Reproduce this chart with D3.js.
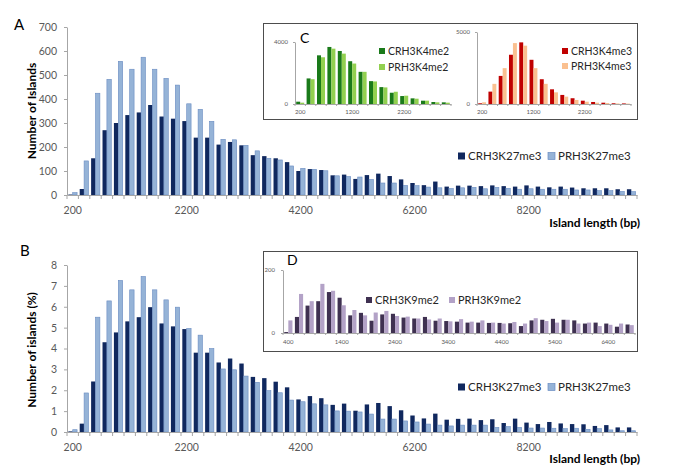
<!DOCTYPE html>
<html><head><meta charset="utf-8">
<script src="https://cdn.jsdelivr.net/npm/d3@7/dist/d3.min.js"></script>
<style>
body{margin:0;background:#fff}
svg{display:block;font-family:Lato,"Open Sans",sans-serif}
</style>
</head><body>
<svg id="c" width="685" height="476"></svg>
<script>
// ---------- DATA ----------
const mainCats = ["200","400","600","800","1000","1200","1400","1600","1800","2000",
  "2200","2400","2600","2800","3000","3200","3400","3600","3800","4000",
  "4200","4400","4600","4800","5000","5200","5400","5600","5800","6000",
  "6200","6400","6600","6800","7000","7200","7400","7600","7800","8000",
  "8200","8400","8600","8800","9000","9200","9400","9600","9800","10000"];
const mainTickLabels = ["200","2200","4200","6200","8200"];

const aCRH = [2,25,153,270,300,333,344,375,327,318,308,239,239,210,221,207,166,162,153,137,
  100,108,104,82,85,67,83,89,79,65,50,41,56,35,39,39,37,40,37,35,40,35,32,35,31,28,28,28,24,24];
const aPRH = [10,142,424,482,557,524,574,524,486,458,380,357,307,232,230,207,184,153,146,121,
  111,107,101,80,77,75,65,50,50,40,39,33,30,27,30,32,26,32,28,24,26,24,24,24,21,21,18,18,15,14];
const aYTicks = [0,100,200,300,400,500,600,700];

const bCRH = [0.03,0.4,2.42,4.3,4.77,5.3,5.5,5.98,5.2,5.06,4.93,3.8,3.8,3.33,3.52,3.28,2.64,2.58,2.41,2.14,
  1.56,1.72,1.62,1.3,1.36,1.02,1.32,1.39,1.24,1.04,0.79,0.65,0.88,0.59,0.63,0.64,0.57,0.61,0.43,0.64,
  0.45,0.38,0.48,0.41,0.38,0.37,0.29,0.33,0.22,0.22];
const bPRH = [0.11,1.87,5.5,6.28,7.26,6.81,7.45,6.81,6.33,5.98,4.96,4.64,4.0,3.02,2.98,2.68,2.38,1.98,1.88,1.53,
  1.45,1.35,1.3,1.01,1.0,0.96,0.86,0.62,0.62,0.53,0.48,0.38,0.33,0.29,0.33,0.33,0.33,0.22,0.26,0.22,
  0.19,0.19,0.18,0.16,0.18,0.13,0.16,0.1,0.06,0.06];
const bYTicks = [0,1,2,3,4,5,6,7,8];

const cCats = ["200","400","600","800","1000","1200","1400","1600","1800","2000","2200","2400","2600","2800","3000"];
const cTickLabels = ["200","1200","2200"];
const k4me2CRH = [150,1650,3140,3680,3420,2760,2075,1475,1090,727,513,364,214,128,107];
const k4me2PRH = [85,1600,3015,3570,3250,2610,2075,1455,1070,790,535,342,214,107,86];
const k4me3CRH = [50,860,1950,3420,4280,3070,1720,1020,630,400,230,140,90,50,40];
const k4me3PRH = [120,1400,2490,4230,4050,2490,1400,810,510,280,160,90,70,40,30];

const dCats = ["400","600","800","1000","1200","1400","1600","1800","2000","2200","2400","2600","2800",
  "3000","3200","3400","3600","3800","4000","4200","4400","4600","4800","5000","5200","5400","5600",
  "5800","6000","6200","6400","6600","6800"];
const dTickLabels = ["400","1400","2400","3400","4400","5400","6400"];
const k9me2CRH = [3,51,87,101,130,112,56,64,39,59,61,49,46,51,39,38,36,33,33,32,32,31,22,40,42,45,42,40,30,33,30,20,27];
const k9me2PRH = [40,124,101,156,134,88,73,56,65,70,54,52,46,43,46,37,44,36,40,33,30,35,30,47,38,33,42,30,33,22,26,30,25];

// ---------- DRAW ----------
const svg = d3.select("#c");
const AXIS = "#a6a6a6", TXT = "#595959";

function barChart(o){
  const g = svg.append("g");
  const x = d3.scaleBand().domain(o.cats).range(o.xr).padding(0);
  const sub = d3.scaleBand().domain(d3.range(o.series.length)).range([0, x.bandwidth()])
      .paddingInner(0).paddingOuter(o.pad);
  const y = d3.scaleLinear().domain(o.yd).range(o.yr);
  const y0 = y(0);
  o.series.forEach((s,i)=>{
    g.append("g").selectAll("rect").data(s.vals).join("rect")
      .attr("x",(d,j)=>x(o.cats[j])+sub(i))
      .attr("width",sub.bandwidth())
      .attr("y",d=>y(d))
      .attr("height",d=>y0-y(d))
      .attr("fill",s.color)
      .attr("stroke",s.stroke||"none")
      .attr("stroke-width",s.stroke?0.6:0);
  });
  const ya = g.append("g").attr("transform",`translate(${o.xr[0]},0)`)
    .call(d3.axisLeft(y).tickValues(o.yTicks).tickFormat(d3.format("d"))
      .tickSize(o.ytick).tickSizeOuter(0).tickPadding(o.ypad));
  const xa = g.append("g").attr("transform",`translate(0,${y0})`)
    .call(d3.axisBottom(x).tickValues(o.xTicks).tickSize(0).tickSizeOuter(0).tickPadding(o.xpad));
  [ya,xa].forEach(a=>{
    a.select(".domain").attr("stroke",AXIS);
    a.selectAll(".tick line").attr("stroke",AXIS);
    a.selectAll("text").attr("fill",TXT).style("font-size",o.fs+"px").style("font-family","Lato");
  });
  const bounds = o.cats.map(c=>x(c)).concat([o.xr[1]]);
  g.append("g").selectAll("line").data(bounds).join("line")
    .attr("x1",d=>d).attr("x2",d=>d).attr("y1",y0).attr("y2",y0+o.xtick)
    .attr("stroke",AXIS).attr("stroke-width",1);
  return {x,y};
}

function legend(items, fs, sq){
  items.forEach(it=>{
    svg.append("rect").attr("x",it.x).attr("y",it.y-sq/2).attr("width",sq).attr("height",sq)
      .attr("fill",it.color).attr("stroke",it.stroke||"none").attr("stroke-width",it.stroke?0.7:0);
    svg.append("text").attr("x",it.x+sq+3).attr("y",it.y).attr("dy","0.35em")
      .style("font-size",fs+"px").attr("fill","#262626").text(it.label);
  });
}
function label(t,x,y,fs,opts={}){
  const e = svg.append("text").attr("x",x).attr("y",y).style("font-size",fs+"px").attr("fill",opts.fill||"#000")
    .style("font-weight",opts.bold?"700":"400").attr("text-anchor",opts.anchor||"start").text(t);
  if(opts.rot) e.attr("transform",`rotate(-90,${x},${y})`);
  return e;
}

const NAVY="#10285e", LBLUE="#95b3d7", LSTROKE="#6a8cc2";

// Panel A
barChart({cats:mainCats, xr:[67,637], yd:[0,700], yr:[195,27], pad:0.3,
  series:[{vals:aCRH,color:NAVY},{vals:aPRH,color:LBLUE,stroke:LSTROKE}],
  yTicks:aYTicks, xTicks:mainTickLabels, ytick:3, ypad:7, xtick:4, xpad:12, fs:10.5});
// Panel B
barChart({cats:mainCats, xr:[67,637], yd:[0,8], yr:[432,265], pad:0.3,
  series:[{vals:bCRH,color:NAVY},{vals:bPRH,color:LBLUE,stroke:LSTROKE}],
  yTicks:bYTicks, xTicks:mainTickLabels, ytick:3, ypad:7, xtick:4, xpad:11.5, fs:10.5});

label("A",14,30,15);
label("B",20,256,15);
label("Number of Islands",36,111,12,{bold:true,anchor:"middle",rot:true,fill:"#000"});
label("Number of islands (%)",36,350,12,{bold:true,anchor:"middle",rot:true,fill:"#000"});
label("Island length (bp)",640,227,12,{bold:true,anchor:"end"});
label("Island length (bp)",640,463,12,{bold:true,anchor:"end"});

legend([{x:458,y:156,color:NAVY,label:"CRH3K27me3"},{x:548,y:156,color:LBLUE,stroke:LSTROKE,label:"PRH3K27me3"}],11.5,7);
legend([{x:458,y:387,color:NAVY,label:"CRH3K27me3"},{x:548,y:387,color:LBLUE,stroke:LSTROKE,label:"PRH3K27me3"}],11.5,7);

// Inset C
svg.append("rect").attr("x",263.5).attr("y",23.5).attr("width",374).attr("height",96)
  .attr("fill","#fff").attr("stroke","#4d4d4d").attr("stroke-width",1);
barChart({cats:cCats, xr:[295,451], yd:[0,4000], yr:[104,42], pad:0.3,
  series:[{vals:k4me2CRH,color:"#1a7a1a"},{vals:k4me2PRH,color:"#92d050"}],
  yTicks:[0,4000], xTicks:cTickLabels, ytick:2, ypad:5, xtick:2, xpad:6, fs:6});
barChart({cats:cCats, xr:[477,631], yd:[0,5000], yr:[104,32], pad:0.3,
  series:[{vals:k4me3CRH,color:"#c00000"},{vals:k4me3PRH,color:"#fac090"}],
  yTicks:[0,5000], xTicks:cTickLabels, ytick:2, ypad:5, xtick:2, xpad:6, fs:6});
label("C",300,43,14);
legend([{x:379,y:51,color:"#1a7a1a",label:"CRH3K4me2"},{x:379,y:67,color:"#92d050",label:"PRH3K4me2"}],10.5,6);
legend([{x:562,y:51,color:"#c00000",label:"CRH3K4me3"},{x:562,y:66,color:"#fac090",label:"PRH3K4me3"}],10.5,6);

// Inset D
svg.append("rect").attr("x",263.5).attr("y",251.5).attr("width",374).attr("height",100)
  .attr("fill","#fff").attr("stroke","#4d4d4d").attr("stroke-width",1);
barChart({cats:dCats, xr:[283,635], yd:[0,200], yr:[333,270], pad:0.3,
  series:[{vals:k9me2CRH,color:"#3f3151"},{vals:k9me2PRH,color:"#b3a2c7"}],
  yTicks:[0,200], xTicks:dTickLabels, ytick:2, ypad:6, xtick:2, xpad:7, fs:6});
label("D",287,265,14);
legend([{x:366,y:300,color:"#3f3151",label:"CRH3K9me2"},{x:449,y:300,color:"#b3a2c7",label:"PRH3K9me2"}],11,6);
</script>
</body></html>
